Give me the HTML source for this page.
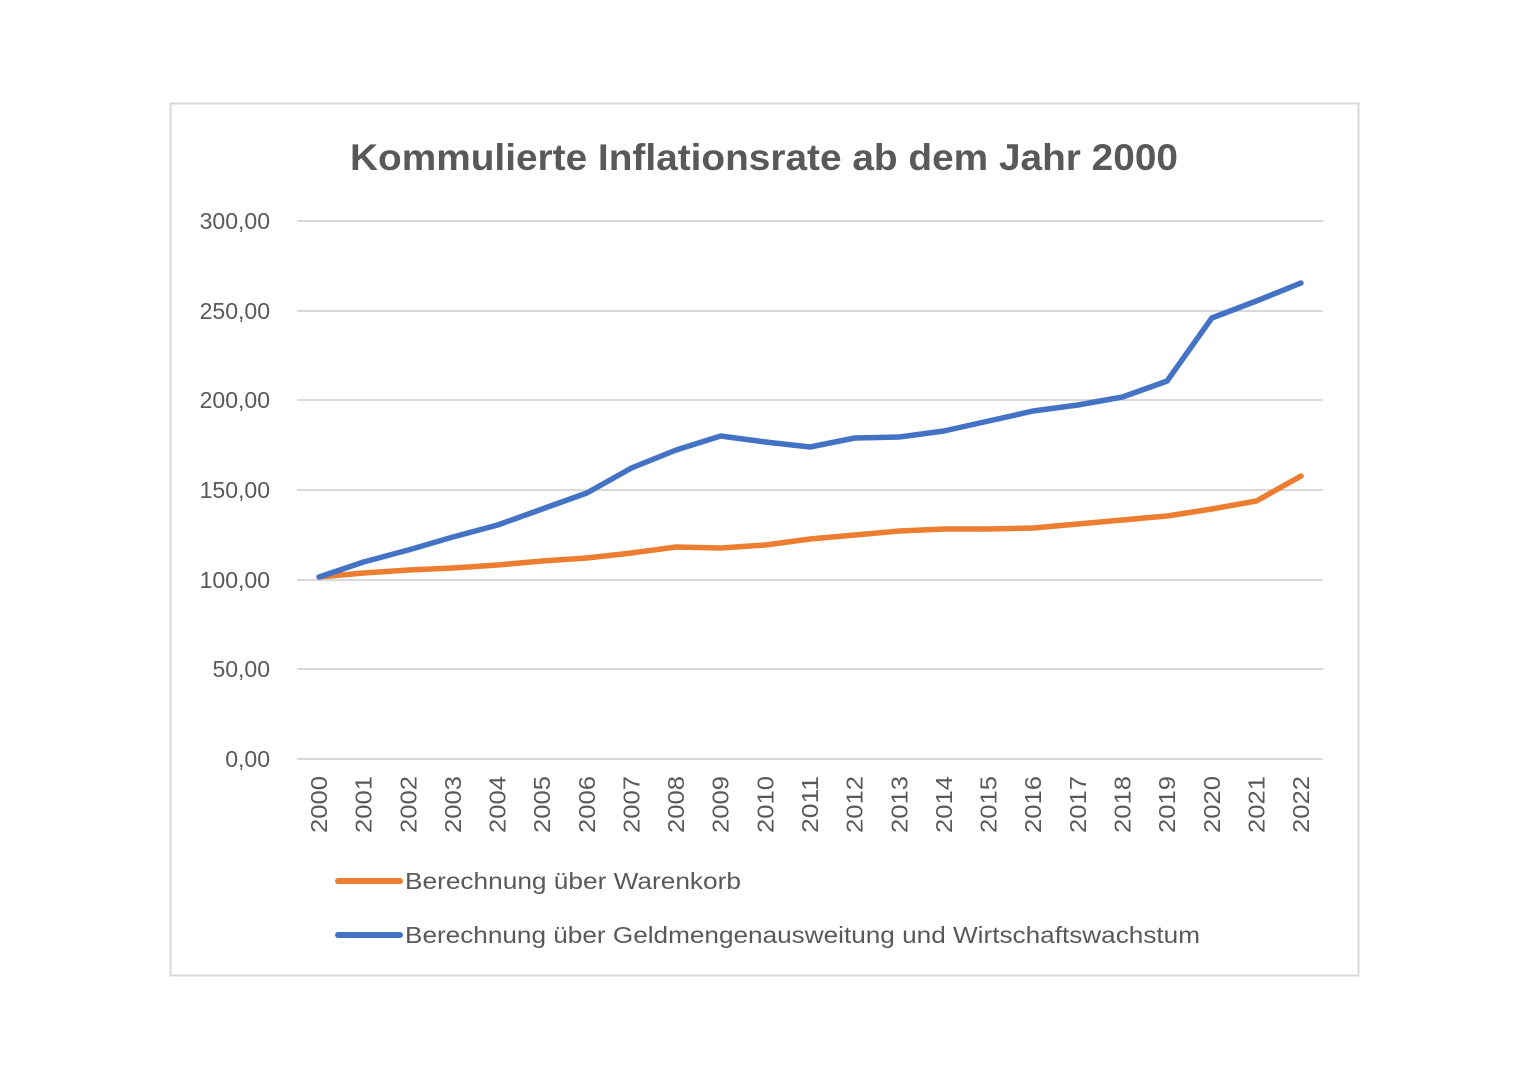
<!DOCTYPE html>
<html><head><meta charset="utf-8"><style>
html,body{margin:0;padding:0;background:#fff;}
svg{display:block;font-family:"Liberation Sans","DejaVu Sans",sans-serif;}
</style></head><body>
<svg width="1528" height="1080" viewBox="0 0 1528 1080" xmlns="http://www.w3.org/2000/svg">
<rect x="0" y="0" width="1528" height="1080" fill="#fff"/>
<rect x="170.5" y="103.5" width="1188" height="872" fill="#fff" stroke="#d9d9d9" stroke-width="2"/>
<text x="350" y="170" font-size="37" font-weight="bold" fill="#595959" textLength="828" lengthAdjust="spacingAndGlyphs">Kommulierte Inflationsrate ab dem Jahr 2000</text>
<g stroke="#d9d9d9" stroke-width="2">
<line x1="297" y1="221" x2="1323" y2="221"/>
<line x1="297" y1="311" x2="1323" y2="311"/>
<line x1="297" y1="400" x2="1323" y2="400"/>
<line x1="297" y1="490" x2="1323" y2="490"/>
<line x1="297" y1="580" x2="1323" y2="580"/>
<line x1="297" y1="669" x2="1323" y2="669"/>
<line x1="297" y1="759" x2="1323" y2="759"/>
</g>
<g font-size="23" fill="#595959" text-anchor="end">
<text x="270" y="229">300,00</text>
<text x="270" y="319">250,00</text>
<text x="270" y="408">200,00</text>
<text x="270" y="498">150,00</text>
<text x="270" y="588">100,00</text>
<text x="270" y="677">50,00</text>
<text x="270" y="767">0,00</text>
</g>
<polyline fill="none" stroke="#ed7d31" stroke-width="5.5" stroke-linejoin="round" stroke-linecap="round" points="319,577 363.6,573 408.3,570 452.9,568 497.6,565 542.2,561 586.8,558 631.5,553 676.1,547 720.7,548 765.4,545 810,539 854.7,535 899.3,531 943.9,529 988.6,529 1033.2,528 1077.8,524 1122.5,520 1167.1,516 1211.8,509 1256.4,501 1301,476"/>
<polyline fill="none" stroke="#4472c4" stroke-width="5.5" stroke-linejoin="round" stroke-linecap="round" points="319,577 363.6,562 408.3,550 452.9,537 497.6,525 542.2,509 586.8,493 631.5,468 676.1,450 720.7,436 765.4,442 810,447 854.7,438 899.3,437 943.9,431 988.6,421 1033.2,411 1077.8,405 1122.5,397 1167.1,381 1211.8,318 1256.4,301 1301,283"/>
<g font-size="23" fill="#595959">
<text transform="translate(327,833) rotate(-90)" textLength="57" lengthAdjust="spacingAndGlyphs">2000</text>
<text transform="translate(371.6,833) rotate(-90)" textLength="57" lengthAdjust="spacingAndGlyphs">2001</text>
<text transform="translate(416.3,833) rotate(-90)" textLength="57" lengthAdjust="spacingAndGlyphs">2002</text>
<text transform="translate(460.9,833) rotate(-90)" textLength="57" lengthAdjust="spacingAndGlyphs">2003</text>
<text transform="translate(505.6,833) rotate(-90)" textLength="57" lengthAdjust="spacingAndGlyphs">2004</text>
<text transform="translate(550.2,833) rotate(-90)" textLength="57" lengthAdjust="spacingAndGlyphs">2005</text>
<text transform="translate(594.8,833) rotate(-90)" textLength="57" lengthAdjust="spacingAndGlyphs">2006</text>
<text transform="translate(639.5,833) rotate(-90)" textLength="57" lengthAdjust="spacingAndGlyphs">2007</text>
<text transform="translate(684.1,833) rotate(-90)" textLength="57" lengthAdjust="spacingAndGlyphs">2008</text>
<text transform="translate(728.7,833) rotate(-90)" textLength="57" lengthAdjust="spacingAndGlyphs">2009</text>
<text transform="translate(773.4,833) rotate(-90)" textLength="57" lengthAdjust="spacingAndGlyphs">2010</text>
<text transform="translate(818,833) rotate(-90)" textLength="57" lengthAdjust="spacingAndGlyphs">2011</text>
<text transform="translate(862.7,833) rotate(-90)" textLength="57" lengthAdjust="spacingAndGlyphs">2012</text>
<text transform="translate(907.3,833) rotate(-90)" textLength="57" lengthAdjust="spacingAndGlyphs">2013</text>
<text transform="translate(951.9,833) rotate(-90)" textLength="57" lengthAdjust="spacingAndGlyphs">2014</text>
<text transform="translate(996.6,833) rotate(-90)" textLength="57" lengthAdjust="spacingAndGlyphs">2015</text>
<text transform="translate(1041.2,833) rotate(-90)" textLength="57" lengthAdjust="spacingAndGlyphs">2016</text>
<text transform="translate(1085.8,833) rotate(-90)" textLength="57" lengthAdjust="spacingAndGlyphs">2017</text>
<text transform="translate(1130.5,833) rotate(-90)" textLength="57" lengthAdjust="spacingAndGlyphs">2018</text>
<text transform="translate(1175.1,833) rotate(-90)" textLength="57" lengthAdjust="spacingAndGlyphs">2019</text>
<text transform="translate(1219.8,833) rotate(-90)" textLength="57" lengthAdjust="spacingAndGlyphs">2020</text>
<text transform="translate(1264.4,833) rotate(-90)" textLength="57" lengthAdjust="spacingAndGlyphs">2021</text>
<text transform="translate(1309,833) rotate(-90)" textLength="57" lengthAdjust="spacingAndGlyphs">2022</text>
</g>
<line x1="338" y1="881" x2="400" y2="881" stroke="#ed7d31" stroke-width="6" stroke-linecap="round"/>
<text x="405" y="889" font-size="23" fill="#595959" textLength="336" lengthAdjust="spacingAndGlyphs">Berechnung über Warenkorb</text>
<line x1="338" y1="935" x2="400" y2="935" stroke="#4472c4" stroke-width="6" stroke-linecap="round"/>
<text x="405" y="943" font-size="23" fill="#595959" textLength="795" lengthAdjust="spacingAndGlyphs">Berechnung über Geldmengenausweitung und Wirtschaftswachstum</text>
</svg>
</body></html>
